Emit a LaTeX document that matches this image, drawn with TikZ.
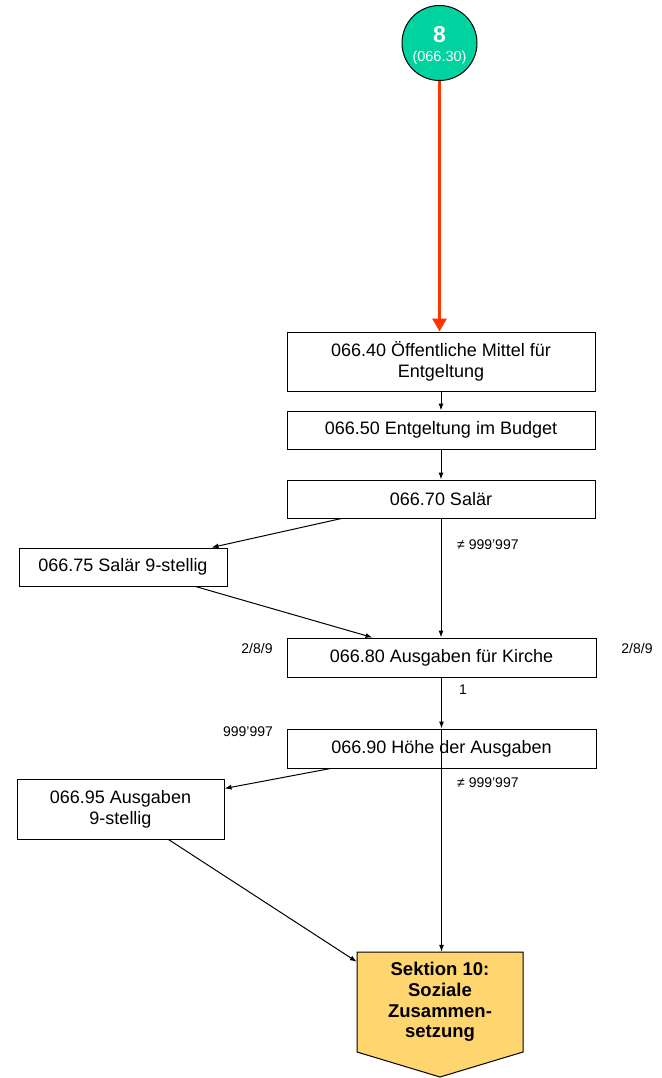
\documentclass[tikz,border=0pt]{standalone}
\usepackage{fontspec}
\setmainfont{Liberation Sans}
\usetikzlibrary{arrows.meta}
\definecolor{tealc}{RGB}{0,210,160}
\definecolor{redc}{RGB}{255,51,0}
\definecolor{secfill}{RGB}{255,213,112}
\begin{document}
\begin{tikzpicture}[x=1pt,y=-1pt,
  box/.style={draw, line width=1pt, fill=white, inner sep=0pt, align=center, font=\fontsize{18}{21}\selectfont},
  lbl/.style={inner sep=0pt, font=\fontsize{14}{16}\selectfont},
  conn/.style={line width=1pt, -{Latex[length=7pt,width=5pt]}}]
\useasboundingbox (0,0) rectangle (661,1078);
% start circle
\node[circle, draw, line width=1pt, fill=tealc, minimum size=75pt, inner sep=0pt] (c) at (439.5,43) {};
\node[text=white, font=\bfseries\fontsize{23}{26}\selectfont, inner sep=0pt] (c8) at (439.5,35) {8};
\node[text=white, font=\fontsize{14.5}{16}\selectfont, inner sep=0pt] (cnum) at (439.5,58) {(066.30)};
% boxes
\node[box, minimum width=308pt, minimum height=59pt] (n40) at (441,361.5) {066.40 Öffentliche Mittel für\\Entgeltung};
\node[box, minimum width=308pt, minimum height=38pt] (n50) at (441,430) {066.50 Entgeltung im Budget};
\node[box, minimum width=308pt, minimum height=38pt] (n70) at (441,499) {066.70 Salär};
\node[box, minimum width=208pt, minimum height=38pt] (n75) at (123,567) {066.75 Salär 9-stellig};
\node[box, minimum width=309pt, minimum height=39pt] (n80) at (441.5,657.5) {066.80 Ausgaben für Kirche};
\node[box, minimum width=309pt, minimum height=39pt] (n90) at (441.5,748.5) {066.90 Höhe der Ausgaben};
\node[box, minimum width=207pt, minimum height=60pt] (n95) at (120.5,809) {066.95 Ausgaben\\9-stellig};
% section pentagon
\draw[fill=secfill, line width=1pt] (357,952) -- (523,952) -- (523,1052) -- (440,1077) -- (357,1052) -- cycle;
\node[inner sep=0pt, align=center, minimum width=166pt, minimum height=100pt,
  font=\bfseries\fontsize{18.5}{20.7}\selectfont] (sec) at (440,1002) {Sektion 10:\\Soziale\\Zusammen-\\setzung};
% labels
\node[lbl, anchor=west] (l1) at (457,545) {≠ 999’997};
\node[lbl] (l2) at (257,648) {2/8/9};
\node[lbl] (l3) at (637,648) {2/8/9};
\node[lbl] (l4) at (463,690) {1};
\node[lbl] (l5) at (248,732) {999’997};
\node[lbl, anchor=west] (l6) at (457,783) {≠ 999’997};
% connectors
\draw[redc, line width=3pt, -{Triangle[length=13pt,width=14pt]}] (c.south) -- (c.south |- n40.north);
\draw[conn] (n40.south) -- (n50.north);
\draw[conn] (n50.south) -- (n70.north);
\draw[conn] ([xshift=55pt]n70.south west) -- ([xshift=-16pt]n75.north east);
\draw[conn] ([xshift=-32pt]n75.south east) -- ([xshift=86pt]n80.north west);
\draw[conn] (n70.south) -- (n70.south |- n80.north);
\draw[conn] (n80.south) -- (n80.south |- n90.north);
\draw[conn] (n80.south |- n90.north) -- (n80.south |- sec.north);
\draw[conn] ([xshift=44pt]n90.south west) -- ([yshift=-10pt]n95.north east);
\draw[conn] ([xshift=-56pt]n95.south east) -- ([yshift=-10pt]sec.north west);
\end{tikzpicture}
\end{document}
